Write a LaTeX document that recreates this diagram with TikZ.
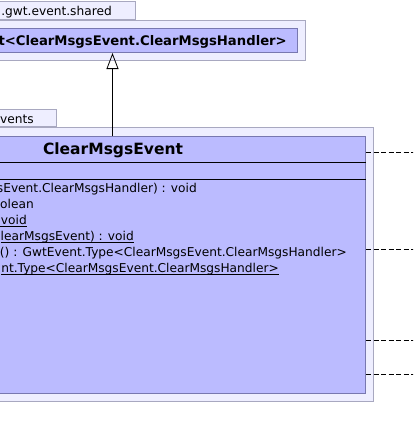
\documentclass[tikz,border=0pt]{standalone}
\usepackage{fontspec}
\setmainfont{DejaVu Sans}
\usetikzlibrary{arrows.meta}

\definecolor{pkgfill}{RGB}{238,238,255}
\definecolor{pkgdraw}{RGB}{168,168,192}
\definecolor{clsfill}{RGB}{187,187,255}
\definecolor{clsdraw}{RGB}{120,120,176}

\newcommand{\ulmember}[1]{\underline{\smash{#1}}}

\begin{document}
\begin{tikzpicture}[x=1pt,y=-1pt,
    pkg/.style={draw=pkgdraw,fill=pkgfill,line width=1pt,inner sep=0pt},
    cls/.style={draw=clsdraw,fill=clsfill,line width=1pt,inner sep=0pt},
    member/.style={anchor=base east,inner sep=0pt,font=\fontsize{12.2}{14}\selectfont},
    title/.style={inner sep=0pt,font=\fontsize{13.2}{16}\selectfont\bfseries},
    realize/.style={draw,dash pattern=on 5pt off 2.5pt,line width=0.8pt},
    extends/.style={draw,line width=0.8pt,-{Triangle[open,length=16pt,width=12pt]}}]
    \useasboundingbox (0,0) rectangle (413,439);
    \clip (0,0) rectangle (413,439);

    % com.google.gwt.event.shared
    \node[pkg,minimum width=240pt,minimum height=18pt,anchor=south east] (sharedtab) at (136,20) {};
    \node[pkg,minimum width=420pt,minimum height=40pt,anchor=north east] (sharedpkg) at (306,20) {};
    \node[member] (sharedname) at (112,16) {.gwt.event.shared};
    \node[cls,minimum width=410pt,minimum height=24pt,anchor=north east] (gwtevent) at (298,28) {};
    \node[title,anchor=base east] (gwteventname) at (287,45) {t<ClearMsgsEvent.ClearMsgsHandler>};

    % events package
    \node[pkg,minimum width=100pt,minimum height=17pt,anchor=south east] (eventstab) at (57,127) {};
    \node[pkg,minimum width=420pt,minimum height=274pt,anchor=north east] (eventspkg) at (374,127) {};
    \node[member] (eventsname) at (34,123) {vents};
    \node[cls,minimum width=506pt,minimum height=257pt,anchor=north east] (clearmsgs) at (366,136) {};
    \draw[line width=1pt] ([yshift=-26pt]clearmsgs.north west) -- ([yshift=-26pt]clearmsgs.north east);
    \draw[line width=1pt] ([yshift=-43pt]clearmsgs.north west) -- ([yshift=-43pt]clearmsgs.north east);
    \node[title,font=\fontsize{15.5}{18}\selectfont\bfseries,anchor=base] (clearmsgsname) at (113,154.5) {ClearMsgsEvent};

    % operations
    \node[member] (dispatch) at (197,192.5) {sEvent.ClearMsgsHandler) : void};
    \node[member] (isflag) at (34,208.5) {olean};
    \node[member] (fire) at (27,224.5) {\ulmember{\ void}};
    \node[member] (fireinst) at (134,240.5) {\ulmember{learMsgsEvent) : void}};
    \node[member] (assoctype) at (347,256.5) {() : GwtEvent.Type<ClearMsgsEvent.ClearMsgsHandler>};
    \node[member] (gettype) at (279,272.5) {\ulmember{nt.Type<ClearMsgsEvent.ClearMsgsHandler>}};

    % generalization and dependencies
    \draw[extends] (clearmsgs.north) -- (clearmsgs.north |- gwtevent.south);
    \foreach \y [count=\i] in {152,249,340,374} {
        \coordinate (dep\i) at (420,\y);
        \draw[realize] (clearmsgs.east |- dep\i) -- (dep\i);
    }
\end{tikzpicture}
\end{document}
